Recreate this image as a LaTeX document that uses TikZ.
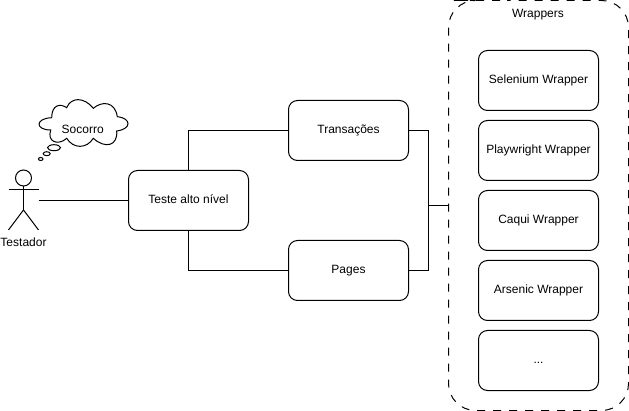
\documentclass[tikz,border=0pt]{standalone}
\usepackage{fontspec}
\setmainfont{Liberation Sans}
\tikzset{
  caixa/.style={draw,rounded corners=9pt,minimum width=120pt,minimum height=60pt,inner sep=0pt,outer sep=0pt,text height=10pt,text depth=3pt,font=\fontsize{12}{14}\selectfont},
  rotulo/.style={inner sep=0pt,text height=10pt,text depth=3pt,font=\fontsize{12}{14}\selectfont},
  ligacao/.style={line width=1pt}
}
\begin{document}
\begin{tikzpicture}[x=1pt,y=-1pt,line width=1pt]
  \fill[white] (0,0) rectangle (629,411);
  \useasboundingbox (0,0) rectangle (629,411);
  % container
  \node[minimum width=180pt,minimum height=410pt,inner sep=0pt,outer sep=0pt] (wrappers) at (538.5,205.5) {};
  \draw[dash pattern=on 8pt off 8pt,dash phase=4.5pt,rounded corners=27pt] (480,0.5) -- (628.5,0.5) -- (628.5,410.5) -- (448.5,410.5) -- (448.5,0.5) -- cycle;
  \node[rotulo] (titulo) at (538,14.5) {Wrappers};
  \node[caixa] (selenium) at (538.5,80.5) {Selenium Wrapper};
  \node[caixa] (playwright) at (538.5,150.5) {Playwright Wrapper};
  \node[caixa] (caqui) at (538.5,220.5) {Caqui Wrapper};
  \node[caixa] (arsenic) at (538.5,290.5) {Arsenic Wrapper};
  \node[caixa] (outros) at (538.5,360.5) {...};
  % camadas
  \node[caixa] (teste) at (188.5,200.5) {Teste alto nível};
  \node[caixa] (transacoes) at (348.5,130.5) {Transações};
  \node[caixa] (pages) at (348.5,270.5) {Pages};
  \coordinate (juncao) at (428.5,205.5);
  \draw[ligacao] (teste.north) |- (transacoes.west);
  \draw[ligacao] (teste.south) |- (pages.west);
  \draw[ligacao] (transacoes.east) -| (juncao);
  \draw[ligacao] (pages.east) -| (juncao);
  \draw[ligacao] (juncao) -- (wrappers.west);
  % testador
  \draw (23.5,178) circle (8);
  \draw (23.5,186) -- (23.5,210);
  \draw (8.5,190) -- (38.5,190);
  \draw (8.5,230) -- (23.5,210) -- (38.5,230);
  \coordinate (ator) at (38.5,200.5);
  \node[rotulo] (testador) at (23.5,243.5) {Testador};
  \draw[ligacao] (ator) -- (teste.west);
  % nuvem
  \draw (51.7,117.7) .. controls (51.7,105) and (60,103) .. (66.7,107.7)
    .. controls (71,97) and (84,96.7) .. (93.3,108.3)
    .. controls (101.7,101) and (115,101) .. (117.3,116.7)
    .. controls (131.7,118.3) and (131.7,129) .. (116.7,131)
    .. controls (118,146) and (105,149) .. (93.3,138.3)
    .. controls (86.7,149) and (73.3,149) .. (66.7,138.3)
    .. controls (58.3,146) and (46.7,142) .. (50.7,130)
    .. controls (35,130) and (35,118.3) .. (51.7,117.7) -- cycle;
  \node[rotulo] (socorro) at (82.7,130) {Socorro};
  \draw (54,147.7) ellipse (6.5 and 3);
  \draw (46.7,153.7) ellipse (3.5 and 2);
  \draw (40.7,159) ellipse (2.3 and 1.5);
\end{tikzpicture}
\end{document}
